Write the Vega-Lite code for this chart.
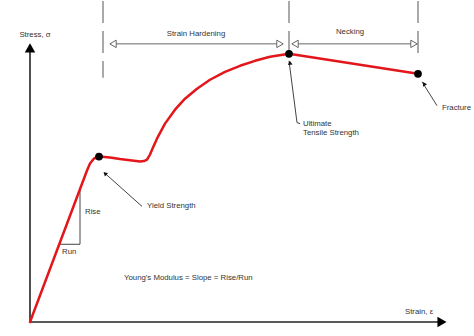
{
  "$schema": "https://vega.github.io/schema/vega-lite/v6.json",
  "width": 474,
  "height": 336,
  "padding": 0,
  "autosize": {"type": "fit", "contains": "padding"},
  "background": "white",
  "config": {"view": {"stroke": null}},
  "datasets": {
    "curve": [
      {"x": 0, "y": 0}, {"x": 57, "y": 152}, {"x": 60, "y": 159}, {"x": 64, "y": 164}, {"x": 69, "y": 166},
      {"x": 80, "y": 165}, {"x": 90, "y": 163.5}, {"x": 102, "y": 162}, {"x": 110, "y": 161}, {"x": 114, "y": 161.5},
      {"x": 117, "y": 163}, {"x": 120, "y": 168}, {"x": 123, "y": 175}, {"x": 128, "y": 186}, {"x": 135, "y": 199},
      {"x": 145, "y": 213}, {"x": 155, "y": 224}, {"x": 167, "y": 234}, {"x": 180, "y": 243}, {"x": 195, "y": 251},
      {"x": 210, "y": 257}, {"x": 225, "y": 262}, {"x": 240, "y": 266}, {"x": 259, "y": 269}, {"x": 388, "y": 249}
    ],
    "dashed": [
      {"x": 73, "y": 322, "x2": 73, "y2": 245},
      {"x": 259, "y": 322, "x2": 259, "y2": 272},
      {"x": 388, "y": 322, "x2": 388, "y2": 267}
    ],
    "spans": [
      {"x": 80, "y": 279, "x2": 253, "y2": 279},
      {"x": 262, "y": 279, "x2": 387, "y2": 279}
    ],
    "spanHeads": [
      {"x": 83, "y": 279, "s": "triangle-left"},
      {"x": 250, "y": 279, "s": "triangle-right"},
      {"x": 265, "y": 279, "s": "triangle-left"},
      {"x": 384, "y": 279, "s": "triangle-right"}
    ],
    "axes": [
      {"x": 0, "y": 0, "x2": 0, "y2": 271},
      {"x": 0, "y": 0, "x2": 409, "y2": 0}
    ],
    "axisHeads": [
      {"x": 0, "y": 275, "a": 0},
      {"x": 412, "y": 0, "a": 90}
    ],
    "leaders": [
      {"x": 112, "y": 116, "x2": 74, "y2": 150},
      {"x": 267, "y": 200, "x2": 259, "y2": 262},
      {"x": 267, "y": 200, "x2": 270, "y2": 199},
      {"x": 407, "y": 217, "x2": 392, "y2": 241},
      {"x": 30, "y": 78, "x2": 50, "y2": 78},
      {"x": 50, "y": 78, "x2": 50, "y2": 135}
    ],
    "leaderHeads": [
      {"x": 75, "y": 149, "a": 312},
      {"x": 260, "y": 260, "a": 353},
      {"x": 394, "y": 239, "a": 329}
    ],
    "dots": [
      {"x": 69, "y": 166}, {"x": 259, "y": 269}, {"x": 388, "y": 249}
    ],
    "centerLabels": [
      {"x": 5, "y": 288, "t": "Stress, σ"},
      {"x": 166, "y": 289, "t": "Strain Hardening"},
      {"x": 320, "y": 291, "t": "Necking"}
    ],
    "leftLabels": [
      {"x": 55, "y": 110, "t": "Rise"},
      {"x": 32, "y": 70, "t": "Run"},
      {"x": 117, "y": 116, "t": "Yield Strength"},
      {"x": 273, "y": 199, "t": "Ultimate"},
      {"x": 273, "y": 190, "t": "Tensile Strength"},
      {"x": 412, "y": 215, "t": "Fracture"},
      {"x": 94, "y": 44, "t": "Young's Modulus = Slope = Rise/Run"},
      {"x": 375, "y": 10, "t": "Strain, ε"}
    ]
  },
  "encoding": {
    "x": {"field": "x", "type": "quantitative", "axis": null, "scale": {"domain": [-30, 444], "nice": false, "zero": false}},
    "y": {"field": "y", "type": "quantitative", "axis": null, "scale": {"domain": [-14, 322], "nice": false, "zero": false}}
  },
  "layer": [
    {
      "data": {"name": "dashed"},
      "mark": {"type": "rule", "color": "#555555", "strokeWidth": 1, "strokeDash": [22, 8]},
      "encoding": {"x2": {"field": "x2"}, "y2": {"field": "y2"}}
    },
    {
      "data": {"name": "spans"},
      "mark": {"type": "rule", "color": "#666666", "strokeWidth": 1},
      "encoding": {"x2": {"field": "x2"}, "y2": {"field": "y2"}}
    },
    {
      "data": {"name": "spanHeads"},
      "mark": {"type": "point", "filled": false, "fill": "white", "fillOpacity": 1, "stroke": "#666666", "strokeWidth": 1, "size": 55, "opacity": 1},
      "encoding": {"shape": {"field": "s", "type": "nominal", "scale": null, "legend": null}}
    },
    {
      "data": {"name": "leaders"},
      "mark": {"type": "rule", "color": "#444444", "strokeWidth": 1},
      "encoding": {"x2": {"field": "x2"}, "y2": {"field": "y2"}}
    },
    {
      "data": {"name": "leaderHeads"},
      "mark": {"type": "point", "shape": "triangle-up", "filled": true, "color": "#111111", "size": 22, "opacity": 1},
      "encoding": {"angle": {"field": "a", "type": "quantitative", "scale": null}}
    },
    {
      "data": {"name": "axes"},
      "mark": {"type": "rule", "color": "#222222", "strokeWidth": 1.6},
      "encoding": {"x2": {"field": "x2"}, "y2": {"field": "y2"}}
    },
    {
      "data": {"name": "axisHeads"},
      "mark": {"type": "point", "shape": "triangle-up", "filled": true, "color": "#000000", "size": 110, "opacity": 1},
      "encoding": {"angle": {"field": "a", "type": "quantitative", "scale": null}}
    },
    {
      "data": {"name": "curve"},
      "mark": {"type": "line", "color": "#e3161b", "strokeWidth": 2.5, "strokeJoin": "round", "strokeCap": "round"},
      "encoding": {"order": {"field": "x", "type": "quantitative"}}
    },
    {
      "data": {"name": "dots"},
      "mark": {"type": "point", "shape": "circle", "filled": true, "color": "#000000", "size": 60, "opacity": 1},
      "encoding": {}
    },
    {
      "data": {"name": "centerLabels"},
      "mark": {"type": "text", "font": "Liberation Sans", "fontSize": 7.8, "color": "#333333", "align": "center", "baseline": "middle"},
      "encoding": {"text": {"field": "t"}}
    },
    {
      "data": {"name": "leftLabels"},
      "mark": {"type": "text", "font": "Liberation Sans", "fontSize": 7.8, "color": "#333333", "align": "left", "baseline": "middle"},
      "encoding": {"text": {"field": "t"}}
    }
  ]
}
